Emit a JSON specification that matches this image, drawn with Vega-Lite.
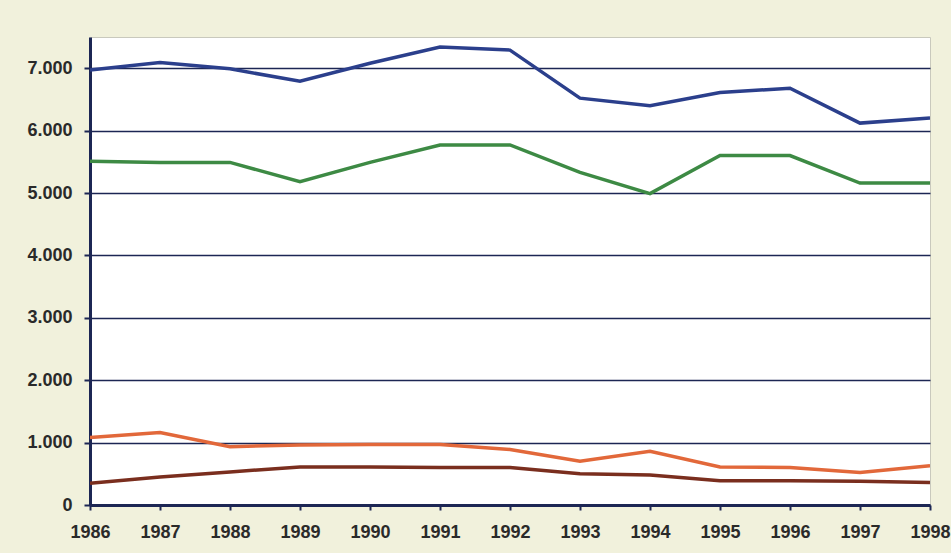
{
  "$schema": "https://vega.github.io/schema/vega-lite/v6.json",
  "autosize": "none",
  "width": 840,
  "height": 468,
  "padding": {"left": 90, "top": 37, "right": 21, "bottom": 48},
  "background": "#f1f1dc",
  "config": {
    "view": {"fill": "#ffffff", "stroke": "#c9c9bd", "strokeWidth": 1},
    "axis": {
      "labelFont": "Liberation Sans",
      "labelFontWeight": "bold",
      "labelFontSize": 18,
      "labelColor": "#2a2a2a",
      "domainColor": "#1c2654",
      "domainWidth": 3,
      "tickColor": "#1c2654",
      "tickWidth": 2,
      "title": null
    }
  },
  "data": {
    "values": [
      {"year": 1986, "series": "A", "value": 6970},
      {"year": 1987, "series": "A", "value": 7090},
      {"year": 1988, "series": "A", "value": 6990},
      {"year": 1989, "series": "A", "value": 6790},
      {"year": 1990, "series": "A", "value": 7080},
      {"year": 1991, "series": "A", "value": 7340},
      {"year": 1992, "series": "A", "value": 7290},
      {"year": 1993, "series": "A", "value": 6520},
      {"year": 1994, "series": "A", "value": 6400},
      {"year": 1995, "series": "A", "value": 6610},
      {"year": 1996, "series": "A", "value": 6680},
      {"year": 1997, "series": "A", "value": 6120},
      {"year": 1998, "series": "A", "value": 6200},
      {"year": 1986, "series": "B", "value": 5510},
      {"year": 1987, "series": "B", "value": 5490},
      {"year": 1988, "series": "B", "value": 5490},
      {"year": 1989, "series": "B", "value": 5180},
      {"year": 1990, "series": "B", "value": 5490},
      {"year": 1991, "series": "B", "value": 5770},
      {"year": 1992, "series": "B", "value": 5770},
      {"year": 1993, "series": "B", "value": 5330},
      {"year": 1994, "series": "B", "value": 4990},
      {"year": 1995, "series": "B", "value": 5600},
      {"year": 1996, "series": "B", "value": 5600},
      {"year": 1997, "series": "B", "value": 5160},
      {"year": 1998, "series": "B", "value": 5160},
      {"year": 1986, "series": "C", "value": 1080},
      {"year": 1987, "series": "C", "value": 1160},
      {"year": 1988, "series": "C", "value": 935},
      {"year": 1989, "series": "C", "value": 960},
      {"year": 1990, "series": "C", "value": 970},
      {"year": 1991, "series": "C", "value": 970},
      {"year": 1992, "series": "C", "value": 890},
      {"year": 1993, "series": "C", "value": 700},
      {"year": 1994, "series": "C", "value": 860},
      {"year": 1995, "series": "C", "value": 610},
      {"year": 1996, "series": "C", "value": 600},
      {"year": 1997, "series": "C", "value": 520},
      {"year": 1998, "series": "C", "value": 630},
      {"year": 1986, "series": "D", "value": 350},
      {"year": 1987, "series": "D", "value": 450},
      {"year": 1988, "series": "D", "value": 530},
      {"year": 1989, "series": "D", "value": 610},
      {"year": 1990, "series": "D", "value": 610},
      {"year": 1991, "series": "D", "value": 600},
      {"year": 1992, "series": "D", "value": 600},
      {"year": 1993, "series": "D", "value": 500},
      {"year": 1994, "series": "D", "value": 480},
      {"year": 1995, "series": "D", "value": 390},
      {"year": 1996, "series": "D", "value": 390},
      {"year": 1997, "series": "D", "value": 380},
      {"year": 1998, "series": "D", "value": 360}
    ]
  },
  "mark": {"type": "line", "strokeWidth": 3.5, "clip": true},
  "encoding": {
    "x": {
      "field": "year",
      "type": "quantitative",
      "scale": {"domain": [1986, 1998], "nice": false, "zero": false},
      "axis": {
        "values": [1986, 1987, 1988, 1989, 1990, 1991, 1992, 1993, 1994, 1995, 1996, 1997, 1998],
        "format": "d",
        "grid": false,
        "tickSize": 5,
        "labelPadding": 13,
        "labelFlush": false,
        "labelOverlap": false
      }
    },
    "y": {
      "field": "value",
      "type": "quantitative",
      "scale": {"domain": [0, 7500], "nice": false},
      "axis": {
        "values": [0, 1000, 2000, 3000, 4000, 5000, 6000, 7000],
        "labelExpr": "replace(format(datum.value, ','), ',', '.')",
        "grid": true,
        "gridColor": "#1c2654",
        "gridWidth": 1.5,
        "gridOpacity": 1,
        "tickSize": 6,
        "labelPadding": 12
      }
    },
    "color": {
      "field": "series",
      "type": "nominal",
      "scale": {"domain": ["A", "B", "C", "D"], "range": ["#2b3f8c", "#3d8a44", "#e2683a", "#7a2e1e"]},
      "legend": null
    }
  }
}
